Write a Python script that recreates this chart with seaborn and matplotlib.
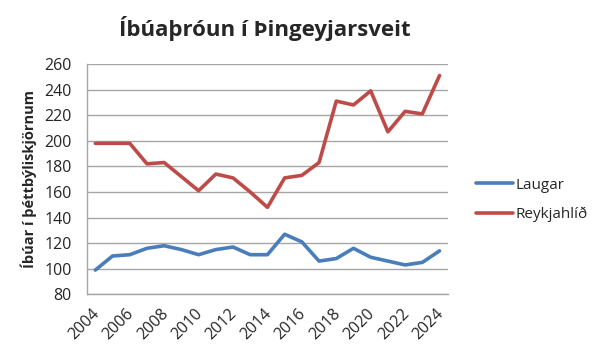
import pandas as pd
import numpy as np
import seaborn as sns
import matplotlib.pyplot as plt
import matplotlib.transforms as mtransforms

years = list(range(2004, 2025))
laugar = [99, 110, 111, 116, 118, 115, 111, 115, 117, 111, 111, 127, 121, 106, 108, 116, 109, 106, 103, 105, 114]
reykjahlid = [198, 198, 198, 182, 183, 172, 161, 174, 171, 160, 148, 171, 173, 183, 231, 228, 239, 207, 223, 221, 251]
series_names = ['Laugar', 'Reykjahlíð']
colors = ['#4a7ebb', '#be4b48']

df = pd.DataFrame({
    'Ár': years * 2,
    'Íbúar': laugar + reykjahlid,
    'Staður': [series_names[0]] * len(years) + [series_names[1]] * len(years),
})

sns.set_style('white')
plt.rcParams['font.family'] = ['Open Sans', 'DejaVu Sans']

fig = plt.figure(figsize=(5.92, 3.51), dpi=100)
ax = fig.add_axes([0.1465, 0.1613, 0.6105, 0.6564])

sns.lineplot(data=df, x='Ár', y='Íbúar', hue='Staður', palette=colors,
             linewidth=2.6, ax=ax, legend=True)

ax.set_ylim(80, 260)
ax.set_yticks(range(80, 261, 20))
ax.set_xlim(years[0] - 0.5, years[-1] + 0.5)
ax.set_xticks(years[::2])
ax.set_xticklabels([str(y) for y in years[::2]], rotation=45, ha='right',
                   rotation_mode='anchor', fontsize=11.5)
ax.tick_params(axis='y', labelsize=11.5, length=0, pad=11)
ax.tick_params(axis='x', length=0, pad=8)

# nudge the slanted year labels a little to the left
shift = mtransforms.ScaledTranslation(-4 / 100, 0, fig.dpi_scale_trans)
for lbl in ax.get_xticklabels():
    lbl.set_transform(lbl.get_transform() + shift)

ax.yaxis.grid(True, color='#a6a6a6', linewidth=1)
ax.set_axisbelow(True)

for side in ['top', 'right']:
    ax.spines[side].set_visible(False)
for side in ['left', 'bottom']:
    ax.spines[side].set_color('#a6a6a6')
    ax.spines[side].set_linewidth(1)

ax.set_xlabel('')
ax.set_ylabel('Íbúar í þéttbýliskjörnum', fontsize=10.5, fontweight='bold', labelpad=5)

fig.suptitle('Íbúaþróun í Þingeyjarsveit', x=0.447, y=0.955, fontsize=16, fontweight='bold')

handles, labels = ax.get_legend_handles_labels()
ax.legend(handles, labels, loc='center left', bbox_to_anchor=(1.04, 0.41),
          frameon=False, fontsize=11, handlelength=2.4, labelspacing=0.95,
          handletextpad=0.15)

fig.savefig('out.png', dpi=100)
